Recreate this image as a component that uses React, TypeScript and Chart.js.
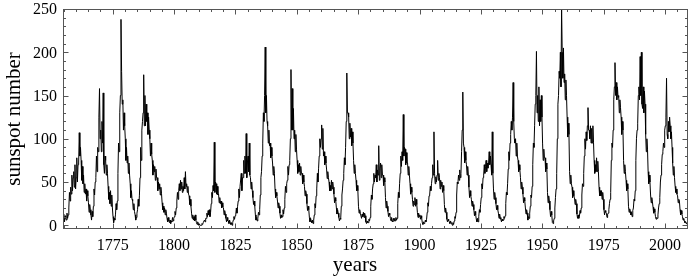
import { useEffect, useRef } from "react";
import { Chart, registerables } from "chart.js";

Chart.register(...registerables);

// Sunspot number, four readings per year, starting in 1755
const startYear = 1755;
const readingsPerYear = 4;

const spots1755s = [13,4,11,8, 6,14,8,12, 20,38,28,44, 36,58,40,55, 62,44,70,42];
const spots1760s = [55,78,50,70, 72,107,80,90, 75,52,68,48, 58,38,48,36, 42,28,40,34, 26,15,24,18, 12,6,16,10, 22,42,35,50, 55,80,62,90, 85,125,158,100];
const spots1770s = [110,85,120,95, 153,70,60,80, 75,58,70,60, 45,30,38,25, 40,22,35,20, 10,3,8,6, 12,25,18,28, 60,95,85,130, 150,238,178,140, 145,110,130,115];
const spots1780s = [100,75,90,72, 80,60,72,58, 48,32,40,30, 28,18,25,16, 12,6,9,14, 18,30,22,34, 55,90,75,110, 120,130,174,115, 150,115,140,120, 130,105,125,110];
const spots1790s = [100,80,95,82, 75,58,70,62, 68,52,65,55, 55,40,50,42, 48,35,44,37, 26,18,22,15, 20,12,18,14, 8,4,9,5, 3,6,2,5, 4,9,5,8];
const spots1800s = [10,16,12,20, 28,38,30,40, 48,40,52,42, 50,38,45,40, 55,42,62,45, 48,38,45,36, 34,24,30,22, 14,8,12,6, 10,5,12,6, 3,1,4,2];
const spots1810s = [0,1,0,0, 0,2,1,3, 3,6,4,8, 8,14,10,17, 12,18,10,15, 25,38,32,46, 40,96,38,50, 48,36,45,35, 36,26,32,25, 28,20,26,21];
const spots1820s = [20,12,17,13, 8,4,9,5, 5,2,6,3, 1,3,0,3, 6,10,7,11, 12,20,14,22, 28,42,32,45, 45,60,40,55, 55,75,60,80, 60,106,55,72];
const spots1830s = [80,62,95,58, 55,42,50,40, 32,24,28,22, 12,6,9,5, 8,15,12,18, 35,55,62,80, 95,130,120,150, 206,130,150,120, 115,95,110,92, 95,78,90,80];
const spots1840s = [72,58,68,60, 42,32,38,34, 28,20,26,22, 14,8,12,9, 10,18,13,20, 30,45,38,48, 52,68,58,70, 75,100,180,110, 158,110,135,100, 110,85,105,88];
const spots1850s = [75,60,70,62, 72,58,68,60, 60,48,58,50, 45,34,40,36, 25,17,22,18, 9,4,8,5, 3,6,2,6, 12,25,20,34, 42,60,50,66, 80,100,90,100];
const spots1860s = [116,88,112,80, 85,70,80,72, 65,54,62,55, 50,40,46,40, 52,42,50,44, 36,26,32,28, 20,13,18,14, 9,5,8,7, 22,35,42,52, 60,78,70,90];
const spots1870s = [120,176,130,130, 125,100,118,102, 112,92,108,95, 75,60,70,60, 52,40,46,40, 22,14,18,14, 14,8,13,10, 15,9,14,11, 4,2,5,3, 3,7,5,9];
const spots1880s = [22,35,30,42, 48,60,50,58, 55,70,50,64, 58,92,52,66, 72,55,70,58, 58,46,55,50, 32,20,28,22, 16,10,14,12, 8,5,9,5, 4,8,5,8];
const spots1890s = [5,9,6,8, 25,38,32,48, 60,80,68,85, 75,128,80,90, 88,70,84,72, 72,58,68,58, 48,36,44,38, 30,22,28,24, 32,22,30,24, 15,9,14,10];
const spots1900s = [12,7,11,8, 3,1,4,2, 3,6,4,7, 15,26,22,34, 35,45,40,48, 55,70,58,108, 60,48,56,50, 58,75,52,60, 55,42,52,45, 50,38,46,40];
const spots1910s = [24,15,20,15, 7,4,7,5, 4,2,5,3, 2,0,3,1, 5,10,8,15, 35,50,48,58, 52,64,55,60, 85,110,154,95, 90,72,85,75, 70,58,68,58];
const spots1920s = [44,32,40,34, 30,22,28,24, 18,11,16,12, 7,4,8,4, 10,18,15,24, 32,48,42,55, 58,70,60,68, 75,62,72,66, 72,85,70,80, 70,58,108,60];
const spots1930s = [42,30,38,32, 25,18,23,18, 14,8,13,9, 7,4,7,5, 6,10,8,11, 25,38,35,48, 65,85,75,95, 105,120,110,125, 165,120,100,95, 100,80,95,80];
const spots1940s = [75,62,70,64, 55,42,50,44, 36,26,32,28, 20,13,18,14, 6,10,8,14, 22,35,32,45, 70,95,90,115, 140,150,201,130, 150,120,160,115, 145,120,150,125];
const spots1950s = [95,75,88,78, 78,62,72,65, 38,26,34,28, 18,10,16,12, 3,2,5,8, 20,32,42,60, 100,140,150,178, 170,200,160,253, 200,170,205,165, 175,145,168,150];
const spots1960s = [125,102,118,105, 62,48,58,48, 44,32,40,34, 32,24,30,25, 13,8,12,8, 10,17,14,20, 35,48,45,60, 80,100,88,108, 98,115,136,110, 110,100,115,95];
const spots1970s = [112,95,115,96, 75,60,70,62, 78,62,74,62, 44,34,40,34, 40,30,38,30, 18,12,17,15, 14,9,13,14, 18,25,30,38, 75,95,90,110, 145,160,188,150];
const spots1980s = [165,145,160,148, 150,130,145,136, 125,105,120,110, 75,60,70,62, 52,40,48,42, 22,15,19,16, 12,15,10,17, 20,30,28,40, 75,100,110,118, 150,160,145,195];
const spots1990s = [150,200,140,135, 160,130,155,140, 105,85,100,88, 62,48,58,50, 35,26,32,27, 21,14,19,15, 10,7,9,8, 12,20,25,32, 50,58,70,82, 85,95,90,110];
const spots2000s = [115,125,170,105, 100,120,108,125, 115,100,108,90, 72,58,68,55, 45,38,42,36, 34,26,30,28, 18,12,17,13, 10,6,8,5, 3,4,2,3, 1,2];

const xTickLabels = [1775, 1800, 1825, 1850, 1875, 1900, 1925, 1950, 1975, 2000];
const yTickLabels = [0, 50, 100, 150, 200, 250];
const xTitle = "years";
const yTitle = "sunspot number";

const allSpots = [
  ...spots1755s, ...spots1760s, ...spots1770s, ...spots1780s, ...spots1790s,
  ...spots1800s, ...spots1810s, ...spots1820s, ...spots1830s, ...spots1840s,
  ...spots1850s, ...spots1860s, ...spots1870s, ...spots1880s, ...spots1890s,
  ...spots1900s, ...spots1910s, ...spots1920s, ...spots1930s, ...spots1940s,
  ...spots1950s, ...spots1960s, ...spots1970s, ...spots1980s, ...spots1990s,
  ...spots2000s,
];

const FONT = "'Liberation Serif', 'Times New Roman', serif";

const framePlugin = {
  id: "framePlugin",
  afterDraw(chart: any) {
    const { ctx, chartArea: a, scales } = chart;
    const xs = scales.x;
    const ys = scales.y;
    const L = Math.floor(a.left) + 0.5;
    const R = Math.floor(a.right) - 0.5;
    const T = Math.floor(a.top) + 0.5;
    const B = Math.floor(a.bottom) - 0.5;
    ctx.save();
    ctx.strokeStyle = "#555";
    ctx.lineWidth = 1;
    ctx.strokeRect(L, T, R - L, B - T);
    ctx.beginPath();
    for (let yr = 1755; yr <= 2005; yr += 5) {
      const px = Math.round(xs.getPixelForValue(yr)) + 0.5;
      if (px < L || px > R) continue;
      const len = yr % 25 === 0 ? 5 : 2.5;
      ctx.moveTo(px, B);
      ctx.lineTo(px, B - len);
      ctx.moveTo(px, T);
      ctx.lineTo(px, T + len);
    }
    for (let v = 0; v <= 250; v += 10) {
      const py = Math.round(ys.getPixelForValue(v)) + 0.5;
      if (py < T || py > B) continue;
      const len = v % 50 === 0 ? 5 : 2.5;
      ctx.moveTo(L, py);
      ctx.lineTo(L + len, py);
      ctx.moveTo(R, py);
      ctx.lineTo(R - len, py);
    }
    ctx.stroke();

    ctx.fillStyle = "#000";
    ctx.font = `16px ${FONT}`;
    ctx.textAlign = "center";
    ctx.textBaseline = "alphabetic";
    for (const t of xTickLabels) {
      ctx.fillText(String(t), xs.getPixelForValue(t), 249.5);
    }
    ctx.textAlign = "right";
    for (const t of yTickLabels) {
      ctx.fillText(String(t), 57, ys.getPixelForValue(t) + 5.3);
    }
    ctx.font = `21px ${FONT}`;
    ctx.textAlign = "center";
    ctx.fillText(xTitle, 355, 271);
    ctx.save();
    ctx.translate(20, (a.top + a.bottom) / 2);
    ctx.rotate(-Math.PI / 2);
    ctx.fillText(yTitle, 0, 0);
    ctx.restore();
    ctx.restore();
  },
};

export default function App() {
  const canvasRef = useRef<HTMLCanvasElement | null>(null);

  useEffect(() => {
    document.body.style.margin = "0";
    const canvas = canvasRef.current;
    if (!canvas) return;
    const points = allSpots.map((v, i) => ({
      x: startYear + (i + 0.5) / readingsPerYear,
      y: v,
    }));
    const chart = new Chart(canvas, {
      type: "line",
      data: {
        datasets: [
          {
            data: points,
            borderColor: "#000",
            borderWidth: 1,
            pointRadius: 0,
            tension: 0,
            fill: false,
          },
        ],
      },
      options: {
        animation: false,
        responsive: false,
        devicePixelRatio: 1,
        layout: { padding: { left: 63, top: 9, right: 2, bottom: 49 } },
        plugins: {
          legend: { display: false },
          tooltip: { enabled: false },
          title: { display: false },
        },
        scales: {
          x: { type: "linear", display: false, min: 1754.75, max: 2009.37 },
          y: { type: "linear", display: false, min: -4.3, max: 250 },
        },
      },
      plugins: [framePlugin],
    });
    return () => chart.destroy();
  }, []);

  return (
    <div style={{ width: 690, height: 278, background: "#fff" }}>
      <canvas ref={canvasRef} width={690} height={278} style={{ display: "block" }} />
    </div>
  );
}
